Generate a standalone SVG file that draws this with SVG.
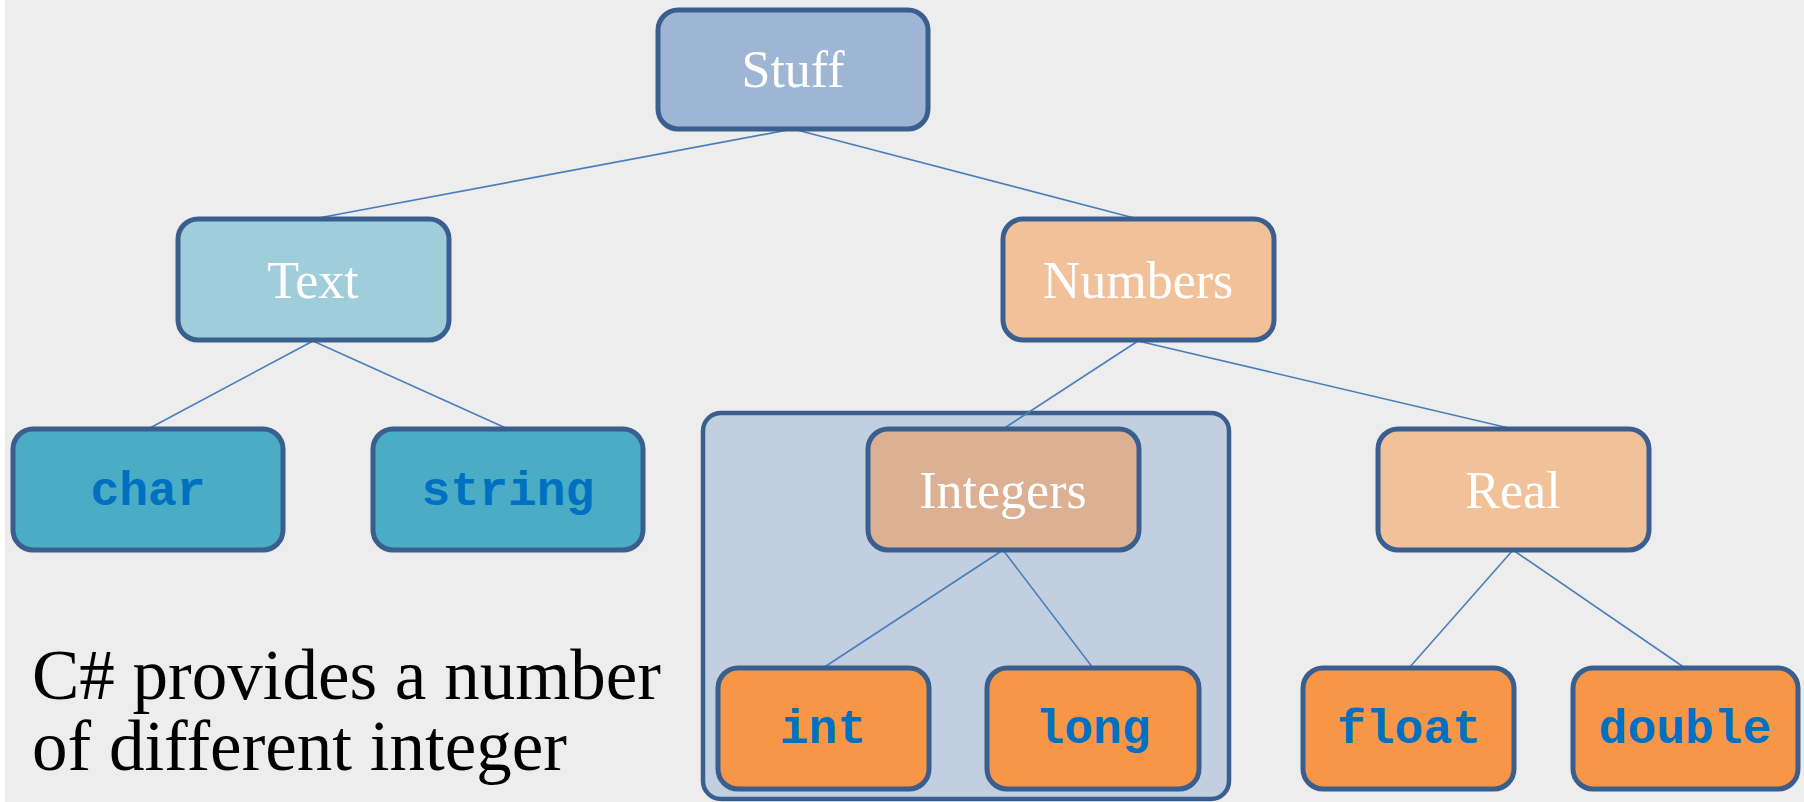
<svg xmlns="http://www.w3.org/2000/svg" width="1804" height="802" viewBox="0 0 1804 802">
<style>
.node{stroke:#3A5F8E;stroke-width:5}
.lbl{font-family:"Liberation Serif","Times New Roman",serif;font-size:52px;fill:#FFFFFF;text-anchor:middle}
.code{font-family:"Liberation Mono","Courier New",monospace;font-size:48px;font-weight:bold;fill:#0070C0;text-anchor:middle}
.conn line{stroke:#4A7EBB;stroke-width:1.6}
</style>
<rect x="0" y="0" width="1804" height="802" fill="#EDEDED"/>
<rect x="0" y="0" width="5" height="802" fill="#FFFFFF"/>
<g id="integer-group">
<rect x="703" y="413" width="526" height="386" rx="18" fill="#C1CFE0" stroke="#3A5F8E" stroke-width="4.5"/>
</g>
<g class="conn" id="connectors">
<line x1="793" y1="129" x2="313" y2="219"/>
<line x1="793" y1="129" x2="1138" y2="219"/>
<line x1="313" y1="341" x2="148" y2="429"/>
<line x1="313" y1="341" x2="508" y2="429"/>
<line x1="1138" y1="341" x2="1003" y2="429"/>
<line x1="1138" y1="341" x2="1513" y2="429"/>
<line x1="1003" y1="550" x2="823" y2="668"/>
<line x1="1003" y1="550" x2="1093" y2="668"/>
<line x1="1513" y1="550" x2="1409" y2="668"/>
<line x1="1513" y1="550" x2="1685" y2="668"/>
</g>
<g id="stuff"><rect class="node" x="658" y="10" width="270" height="119" rx="20" fill="#9EB6D4"/><text class="lbl" x="793" y="87">Stuff</text></g>
<g id="text"><rect class="node" x="178" y="219" width="271" height="121" rx="20" fill="#9FCDDA"/><text class="lbl" x="313" y="298">Text</text></g>
<g id="numbers"><rect class="node" x="1003" y="219" width="271" height="121" rx="20" fill="#F1C29A"/><text class="lbl" x="1138" y="298">Numbers</text></g>
<g id="char"><rect class="node" x="13" y="429" width="270" height="121" rx="20" fill="#4BACC6"/><text class="code" x="148" y="505">char</text></g>
<g id="string"><rect class="node" x="373" y="429" width="270" height="121" rx="20" fill="#4BACC6"/><text class="code" x="508" y="505">string</text></g>
<g id="integers"><rect class="node" x="868" y="429" width="271" height="121" rx="20" fill="#DCB092"/><text class="lbl" x="1003" y="508">Integers</text></g>
<g id="real"><rect class="node" x="1378" y="429" width="271" height="121" rx="20" fill="#F1C29A"/><text class="lbl" x="1513" y="508">Real</text></g>
<g id="int"><rect class="node" x="718" y="668" width="211" height="121" rx="20" fill="#F79646"/><text class="code" x="823" y="743">int</text></g>
<g id="long"><rect class="node" x="987" y="668" width="212" height="121" rx="20" fill="#F79646"/><text class="code" x="1093" y="743">long</text></g>
<g id="float"><rect class="node" x="1303" y="668" width="211" height="121" rx="20" fill="#F79646"/><text class="code" x="1409" y="743">float</text></g>
<g id="double"><rect class="node" x="1573" y="668" width="225" height="121" rx="20" fill="#F79646"/><text class="code" x="1685" y="743">double</text></g>
<g id="caption" font-family="'Liberation Serif','Times New Roman',serif" font-size="71" fill="#000000">
<text x="32" y="699">C# provides a number</text>
<text x="32" y="770">of different integer</text>
</g>
</svg>
